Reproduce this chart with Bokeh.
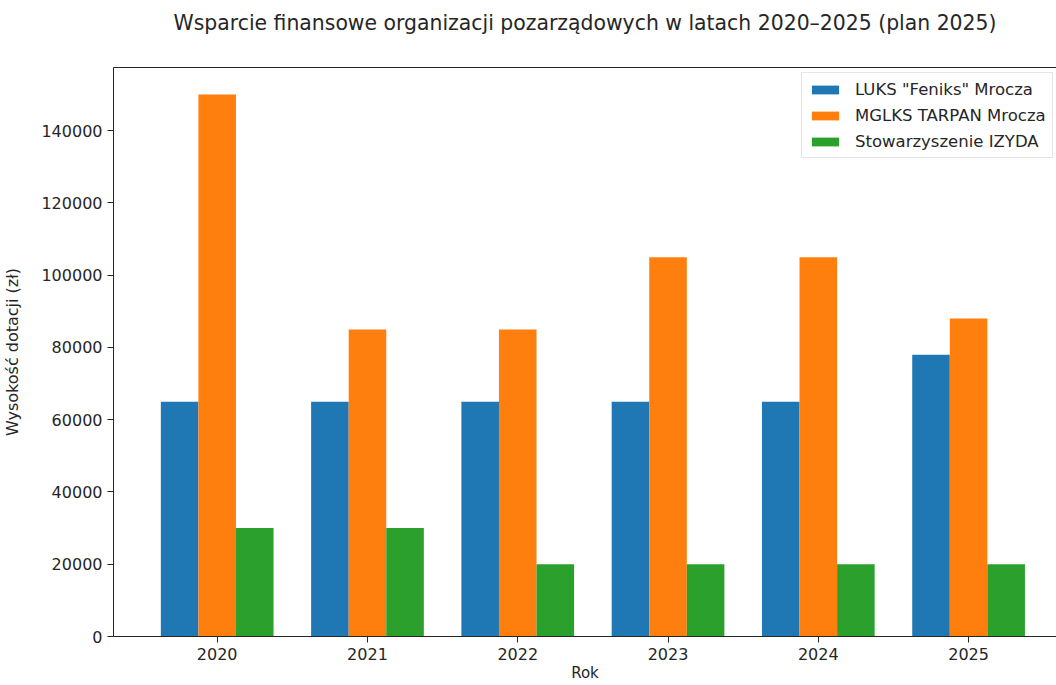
from bokeh.plotting import figure
from bokeh.models import (ColumnDataSource, Range1d, FixedTicker, LinearAxis,
                          Legend, LegendItem, SingleIntervalTicker, NumeralTickFormatter)
from bokeh.transform import dodge
from bokeh.embed import file_html
from bokeh.resources import INLINE

years = ["2020", "2021", "2022", "2023", "2024", "2025"]
series_names = ['LUKS "Feniks" Mrocza', "MGLKS TARPAN Mrocza", "Stowarzyszenie IZYDA"]
feniks = [65000, 65000, 65000, 65000, 65000, 78000]
tarpan = [150000, 85000, 85000, 105000, 105000, 88000]
izyda = [30000, 30000, 20000, 20000, 20000, 20000]
colors = ["#1f77b4", "#ff7f0e", "#2ca02c"]

title_text = "Wsparcie finansowe organizacji pozarządowych w latach 2020–2025 (plan 2025)"
x_label = "Rok"
y_label = "Wysokość dotacji (zł)"

idx = list(range(len(years)))
src = ColumnDataSource(dict(x=idx, feniks=feniks, tarpan=tarpan, izyda=izyda))

FONT = "DejaVu Sans"
TXT = "#262626"
FS = "16px"

p = figure(width=1056, height=685, output_backend="svg", toolbar_location=None,
           x_range=Range1d(-0.69, 5.585), y_range=Range1d(0, 157500),
           min_border_left=112, min_border_right=0, min_border_top=67,
           min_border_bottom=49, x_axis_location=None, y_axis_location=None)
p.outline_line_color = None
p.grid.visible = False

p.title.text = title_text
p.title.text_font = FONT
p.title.text_font_size = "20.4px"
p.title.text_font_style = "normal"
p.title.text_color = TXT
p.title.align = "center"
p.title.offset = 10
p.title.standoff = 10

width = 0.25
r = []
for field, off, c in zip(["feniks", "tarpan", "izyda"], [-0.25, 0.0, 0.25], colors):
    r.append(p.vbar(x=dodge("x", off, range=p.x_range), top=field, width=width,
                    source=src, fill_color=c, line_color=None))

AX = "#262626"
xaxis = LinearAxis(ticker=FixedTicker(ticks=idx),
                   major_label_overrides={i: y for i, y in enumerate(years)})
yaxis = LinearAxis(ticker=SingleIntervalTicker(interval=20000),
                   formatter=NumeralTickFormatter(format="0"))
top_axis = LinearAxis(ticker=FixedTicker(ticks=[]), major_label_text_font_size="0px")
for ax in (xaxis, yaxis, top_axis):
    ax.axis_line_color = AX
    ax.axis_line_width = 1
    ax.major_tick_line_color = AX
    ax.major_tick_in = 0
    ax.major_tick_out = 6
    ax.minor_tick_line_color = None
    ax.major_label_text_font = FONT
    ax.major_label_text_font_size = FS
    ax.major_label_text_color = TXT
    ax.major_label_standoff = 5
top_axis.major_tick_line_color = None
top_axis.major_tick_out = 0
top_axis.major_label_standoff = 0
top_axis.axis_label = " "
top_axis.axis_label_text_font_size = "20px"
top_axis.axis_label_standoff = 3

yaxis.axis_label = y_label
yaxis.axis_label_text_font = FONT
yaxis.axis_label_text_font_size = FS
yaxis.axis_label_text_font_style = "normal"
yaxis.axis_label_text_color = TXT
yaxis.axis_label_standoff = 16

xaxis.axis_label = x_label
xaxis.axis_label_text_font = FONT
xaxis.axis_label_text_font_size = "15px"
xaxis.axis_label_text_font_style = "normal"
xaxis.axis_label_text_color = TXT
xaxis.axis_label_standoff = 1

p.add_layout(xaxis, "below")
p.add_layout(yaxis, "left")
p.add_layout(top_axis, "above")

legend = Legend(items=[LegendItem(label=n, renderers=[rr]) for n, rr in zip(series_names, r)],
                location=(688, 478))
legend.glyph_width = 34
legend.glyph_height = 11
legend.label_standoff = 13
legend.label_height = 20
legend.spacing = 6
legend.padding = 6
legend.margin = 0
legend.label_text_font = FONT
legend.label_text_font_size = "16.5px"
legend.label_text_color = TXT
legend.border_line_color = "#cccccc"
legend.background_fill_alpha = 0.8
p.add_layout(legend, "center")

open("out.html", "w").write(file_html(p, INLINE))
